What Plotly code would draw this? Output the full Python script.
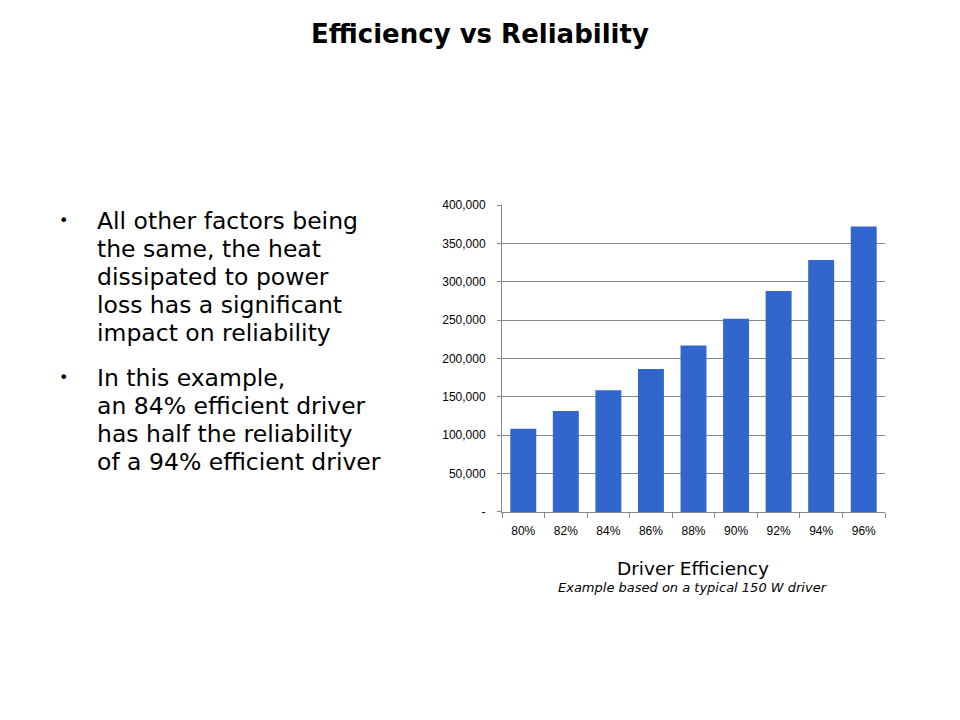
import plotly.graph_objects as go

categories = ["80%", "82%", "84%", "86%", "88%", "90%", "92%", "94%", "96%"]
reliability = [108500, 131500, 158500, 186500, 217000, 252000, 288000, 328500, 372000]
y_tickvals = [0, 50000, 100000, 150000, 200000, 250000, 300000, 350000, 400000]
y_ticktext = ["-", "50,000", "100,000", "150,000", "200,000", "250,000", "300,000", "350,000", "400,000"]

title_text = "Efficiency vs Reliability"
bullets = [
    ["All other factors being", "the same, the heat", "dissipated to power",
     "loss has a significant", "impact on reliability"],
    ["In this example,", "an 84% efficient driver", "has half the reliability",
     "of a 94% efficient driver"],
]
x_title = "Driver Efficiency"
x_note = "Example based on a typical 150 W driver"

W, H = 960, 720

def px(x):
    return x / W

def py(y):
    return 1 - y / H

fig = go.Figure()
fig.add_trace(go.Bar(
    x=categories, y=reliability,
    marker=dict(color="#3366CC", line=dict(width=0)),
    hoverinfo="x+y",
))

tick_font = dict(family="Liberation Sans, Arial, sans-serif", size=12, color="black")

fig.update_layout(
    width=W, height=H,
    margin=dict(l=0, r=0, t=0, b=0),
    paper_bgcolor="white", plot_bgcolor="white",
    showlegend=False,
    bargap=0.39,
    xaxis=dict(
        domain=[px(502), px(885)],
        type="category",
        showline=True, linecolor="#888888", linewidth=1,
        ticks="outside", tickson="boundaries", ticklen=5, tickcolor="#888888",
        tickfont=tick_font, ticklabelstandoff=8,
        showgrid=False,
    ),
    yaxis=dict(
        domain=[py(515), py(202)],
        range=[0, 400000],
        tickvals=y_tickvals, ticktext=y_ticktext,
        showline=True, linecolor="#888888", linewidth=1,
        ticks="outside", ticklen=4, tickcolor="#888888",
        ticklabelstandoff=9,
        showgrid=True, gridcolor="#888888", gridwidth=1,
        zeroline=False,
        tickfont=tick_font,
    ),
)

annotations = []
annotations.append(dict(
    text="<b>" + title_text + "</b>", x=0.5, y=py(28), xref="paper", yref="paper",
    xanchor="center", yanchor="middle", showarrow=False,
    font=dict(family="DejaVu Sans, Verdana, sans-serif", size=26, color="black"),
))

line_h = 28.6
starts = [218, 378]
for block, y0 in zip(bullets, starts):
    annotations.append(dict(
        text="•", x=px(63), y=py(y0), xref="paper", yref="paper",
        xanchor="center", yanchor="middle", showarrow=False,
        font=dict(family="DejaVu Sans, Verdana, sans-serif", size=16, color="black"),
    ))
    for i, line in enumerate(block):
        annotations.append(dict(
            text=line, x=px(95), y=py(y0 + i * line_h), xref="paper", yref="paper",
            xanchor="left", yanchor="middle", showarrow=False,
            font=dict(family="DejaVu Sans, Verdana, sans-serif", size=23.5, color="black"),
        ))

annotations.append(dict(
    text=x_title, x=px(693), y=py(573), xref="paper", yref="paper",
    xanchor="center", yanchor="middle", showarrow=False,
    font=dict(family="DejaVu Sans, Verdana, sans-serif", size=18.5, color="black"),
))
annotations.append(dict(
    text="<i>" + x_note + "</i>", x=px(693), y=py(592), xref="paper", yref="paper",
    xanchor="center", yanchor="middle", showarrow=False,
    font=dict(family="DejaVu Sans, Verdana, sans-serif", size=13, color="black"),
))
fig.update_layout(annotations=annotations)

fig.write_html("out.html", config={"displayModeBar": False},
               post_script="document.body.style.margin='0';document.body.style.overflow='hidden';")
